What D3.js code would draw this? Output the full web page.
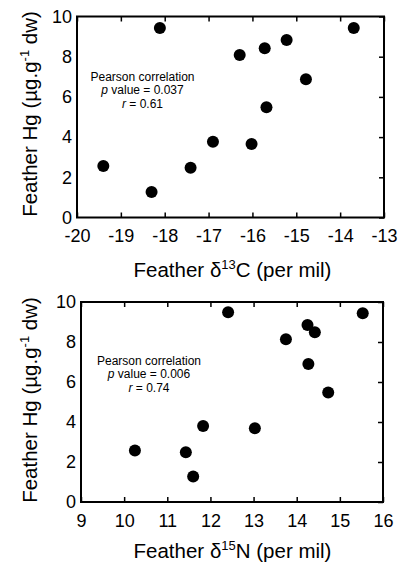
<!DOCTYPE html>
<html>
<head>
<meta charset="utf-8">
<script src="https://d3js.org/d3.v7.min.js"></script>
<style>
  body { margin: 0; background: white; }
  svg text { font-family: "Liberation Sans", Arial, sans-serif; fill: black; }
  .tick text { font-size: 18px; }
</style>
</head>
<body>
<script>
// carbon panel
var carbonX = [-18.11, -16.29, -15.72, -15.22, -14.78, -15.68, -13.69, -19.40, -18.30, -17.41, -16.90, -16.02];
var carbonHg = [9.43, 8.08, 8.42, 8.83, 6.88, 5.48, 9.43, 2.56, 1.27, 2.48, 3.77, 3.66];
var carbonTicks = [-20, -19, -18, -17, -16, -15, -14, -13];
// nitrogen panel
var nitrogenX = [12.41, 13.75, 14.25, 14.42, 14.27, 14.73, 15.53, 10.25, 11.43, 11.60, 11.83, 13.03];
var nitrogenHg = [9.49, 8.14, 8.85, 8.49, 6.90, 5.47, 9.44, 2.57, 2.49, 1.27, 3.80, 3.69];
var nitrogenTicks = [9, 10, 11, 12, 13, 14, 15, 16];
var hgTicks = [0, 2, 4, 6, 8, 10];

var svg = d3.select("body").append("svg").attr("width", 402).attr("height", 564);
var plain = function(d) { return String(d); };

// one line of mixed text (italic / superscript) centred on 0,0 of a group
function richLine(parent, transform, bits) {
    var grp = parent.append("g").attr("transform", transform);
    var pos = 0;
    bits.forEach(function(b) {
        var t = grp.append("text").attr("x", pos).attr("y", b.dy || 0)
            .attr("font-size", b.size + "px").text(b.t);
        if (b.it) t.attr("font-style", "italic");
        pos += t.node().getComputedTextLength();
    });
    grp.selectAll("text").attr("x", function() { return +d3.select(this).attr("x") - pos / 2; });
    return grp;
}

function panel(o) {
    var x = d3.scaleLinear().domain(o.xDomain).range([o.left, o.right]);
    var y = d3.scaleLinear().domain([0, 10]).range([o.bottom, o.top]);
    var g = svg.append("g");

    g.append("g").attr("transform", "translate(0," + o.bottom + ")")
        .call(d3.axisBottom(x).tickValues(o.xTicks).tickSize(-5).tickPadding(12).tickFormat(plain));
    g.append("g").attr("transform", "translate(0," + o.top + ")")
        .call(d3.axisTop(x).tickValues(o.xTicks).tickSize(-5).tickFormat(""));
    g.append("g").attr("transform", "translate(" + o.left + ",0)")
        .call(d3.axisLeft(y).tickValues(hgTicks).tickSize(0).tickPadding(5).tickFormat(plain));
    g.append("g").attr("transform", "translate(" + o.right + ",0)")
        .call(d3.axisRight(y).tickValues(hgTicks).tickSize(-5).tickFormat(""));
    g.selectAll(".domain").remove();
    g.selectAll(".tick line").attr("stroke", "black").attr("stroke-width", 1.5);

    g.append("rect").attr("x", o.left).attr("y", o.top)
        .attr("width", o.right - o.left).attr("height", o.bottom - o.top)
        .attr("fill", "none").attr("stroke", "black").attr("stroke-width", 2);

    g.selectAll("circle").data(o.xs).enter().append("circle")
        .attr("cx", function(d) { return x(d); })
        .attr("cy", function(d, i) { return y(o.hg[i]); })
        .attr("r", 6).attr("fill", "black");

    var lh = 13.5, n0 = o.noteY - 1.2;
    richLine(g, "translate(" + o.noteX + "," + n0 + ")", [{ t: "Pearson correlation", size: 12 }]);
    richLine(g, "translate(" + o.noteX + "," + (n0 + lh) + ")",
        [{ t: "p", it: true, size: 12 }, { t: "\u00A0value = " + o.p, size: 12 }]);
    richLine(g, "translate(" + o.noteX + "," + (n0 + 2 * lh) + ")",
        [{ t: "r", it: true, size: 12 }, { t: "\u00A0= " + o.r, size: 12 }]);

    richLine(g, "translate(232.5," + o.xTitleY + ")", [
        { t: "Feather \u03B4", size: 20.5 },
        { t: o.iso, size: 13, dy: -8 },
        { t: o.el + " (per mil)", size: 20.5 }]);

    richLine(g, "translate(37," + o.yTitleY + ") rotate(-90)", [
        { t: "Feather Hg (\u00B5g.g", size: 20.5 },
        { t: "-1", size: 13, dy: -8 },
        { t: "\u00A0dw)", size: 20.5 }]);
}

panel({ xDomain: [-20, -13], xTicks: carbonTicks, xs: carbonX, hg: carbonHg,
        left: 77, right: 384, top: 16.5, bottom: 217.5,
        noteX: 142.5, noteY: 81.7, p: "0.037", r: "0.61",
        xTitleY: 276.7, yTitleY: 114, iso: "13", el: "C" });
panel({ xDomain: [9, 16], xTicks: nitrogenTicks, xs: nitrogenX, hg: nitrogenHg,
        left: 81, right: 383, top: 302, bottom: 502,
        noteX: 149, noteY: 366, p: "0.006", r: "0.74",
        xTitleY: 558.3, yTitleY: 400, iso: "15", el: "N" });
</script>
</body>
</html>
